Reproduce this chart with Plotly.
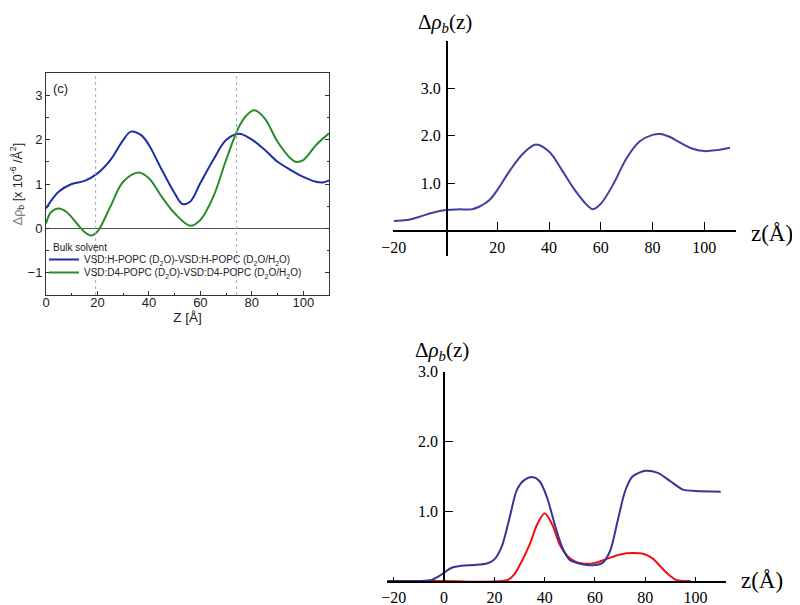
import plotly.graph_objects as go

W, H = 800, 605

# ---------------- Panel (c) data ----------------
c_z_blue = [0, 5, 10, 15, 20, 25, 30, 33, 37, 40, 45, 50, 53, 56, 60, 65, 70, 75, 80, 85, 90, 95, 100, 105, 108, 110]
c_blue = [0.45, 0.83, 1.0, 1.07, 1.24, 1.54, 1.99, 2.18, 2.1, 1.88, 1.32, 0.79, 0.55, 0.6, 1.02, 1.54, 1.99, 2.13, 2.0, 1.77, 1.5, 1.32, 1.16, 1.05, 1.04, 1.08]
c_z_green = [0, 2, 5, 8, 12, 15, 17.5, 20, 25, 30, 36, 40, 45, 50, 56, 60, 65, 70, 75, 78, 81, 85, 90, 95, 97, 100, 105, 110]
c_green = [0.11, 0.37, 0.45, 0.37, 0.11, -0.08, -0.16, -0.07, 0.49, 1.05, 1.26, 1.13, 0.71, 0.34, 0.06, 0.19, 0.71, 1.54, 2.29, 2.55, 2.66, 2.48, 1.95, 1.58, 1.5, 1.54, 1.88, 2.14]
c_vlines = [19.3, 74.1]
c_xticks = [0, 20, 40, 60, 80, 100]
c_yticks = [-1, 0, 1, 2, 3]
c_top_ticks = [11, 22, 33, 44, 55, 66, 77, 88, 99]
c_names = ["VSD:H-POPC (D<sub>2</sub>O)-VSD:H-POPC (D<sub>2</sub>O/H<sub>2</sub>O)",
           "VSD:D4-POPC (D<sub>2</sub>O)-VSD:D4-POPC (D<sub>2</sub>O/H<sub>2</sub>O)"]

# ---------------- Top-right panel data ----------------
t_z = [-20, -15, -10, -5, 0, 5, 10, 13, 17, 20, 25, 30, 35, 40, 45, 50, 55, 57, 60, 65, 70, 75, 80, 83, 87, 90, 95, 100, 105, 110]
t_rho = [0.21, 0.23, 0.3, 0.385, 0.44, 0.455, 0.455, 0.51, 0.65, 0.86, 1.28, 1.63, 1.82, 1.67, 1.28, 0.86, 0.53, 0.46, 0.57, 1.0, 1.53, 1.88, 2.02, 2.04, 1.97, 1.88, 1.74, 1.68, 1.7, 1.75]
t_xticks = [-20, 20, 40, 60, 80, 100]
t_xlabels = ["\u221220", "20", "40", "60", "80", "100"]
t_yticks = [1.0, 2.0, 3.0]

# ---------------- Bottom-right panel data ----------------
b_z_blue = [-22, -10, -5, -2, 0, 3, 7, 12, 17, 20, 23, 26, 29, 32, 35, 38, 41, 44, 47, 50, 55, 60, 63, 66, 69, 72, 75, 80, 85, 90, 95, 100, 110]
b_blue = [0, 0, 0.015, 0.07, 0.12, 0.19, 0.22, 0.23, 0.25, 0.31, 0.5, 0.9, 1.31, 1.45, 1.49, 1.43, 1.19, 0.81, 0.48, 0.3, 0.24, 0.23, 0.26, 0.43, 0.86, 1.29, 1.5, 1.58, 1.55, 1.43, 1.31, 1.29, 1.28]
b_z_red = [-25, 0, 25, 28, 31, 34, 37, 40, 43, 46, 49, 52, 55, 60, 65, 70, 75, 80, 83, 86, 89, 92, 95, 98]
b_red = [0, 0, 0.01, 0.1, 0.29, 0.52, 0.81, 0.97, 0.81, 0.52, 0.36, 0.28, 0.25, 0.26, 0.32, 0.38, 0.4, 0.38, 0.32, 0.21, 0.1, 0.02, 0.0, 0.0]
b_xticks = [-20, 0, 20, 40, 60, 80, 100]
b_xlabels = ["\u221220", "0", "20", "40", "60", "80", "100"]
b_yticks = [1.0, 2.0, 3.0]

# ---------------- geometry helpers (page body has an 8px margin) ----------------
OFF = 8

def fx(px):
    return (px - OFF) / W

def fy(py):
    return 1 - (py - OFF) / H

fig = go.Figure()

fig.add_trace(go.Scatter(x=c_z_blue, y=c_blue, mode="lines", name=c_names[0], legend="legend",
                         line=dict(color="#1c2fa3", width=2, shape="spline", smoothing=1.0),
                         xaxis="x", yaxis="y"))
fig.add_trace(go.Scatter(x=c_z_green, y=c_green, mode="lines", name=c_names[1], legend="legend2",
                         line=dict(color="#2a8c2a", width=2, shape="spline", smoothing=1.0),
                         xaxis="x", yaxis="y"))

fig.add_trace(go.Scatter(x=t_z, y=t_rho, mode="lines", showlegend=False,
                         line=dict(color="#4040a0", width=2, shape="spline", smoothing=1.0),
                         xaxis="x2", yaxis="y2"))

fig.add_trace(go.Scatter(x=b_z_red, y=b_red, mode="lines", showlegend=False,
                         line=dict(color="#f01010", width=2, shape="spline", smoothing=0.8),
                         xaxis="x3", yaxis="y3"))
fig.add_trace(go.Scatter(x=b_z_blue, y=b_blue, mode="lines", showlegend=False,
                         line=dict(color="#363696", width=2, shape="spline", smoothing=0.8),
                         xaxis="x3", yaxis="y3"))

serif = "Liberation Serif"
sans = "Liberation Sans"

c_dom_x = [fx(46), fx(329)]
c_dom_y = [fy(295), fy(73)]
t_dom_x = [fx(393.3), fx(736)]
t_dom_y = [fy(256), fy(40.7)]
b_dom_x = [fx(387), fx(726)]
b_dom_y = [fy(581), fy(371.7)]

leg_font = dict(family=sans, size=10, color="#222")

fig.update_layout(
    width=W, height=H,
    margin=dict(l=0, r=0, t=0, b=0, autoexpand=False),
    paper_bgcolor="white", plot_bgcolor="white",
    showlegend=True,
    legend=dict(x=fx(44), y=fy(245), xanchor="left", yanchor="top",
                bgcolor="rgba(0,0,0,0)", font=leg_font, itemwidth=30),
    legend2=dict(x=fx(44), y=fy(258), xanchor="left", yanchor="top",
                 bgcolor="rgba(0,0,0,0)", font=leg_font, itemwidth=30),
    xaxis=dict(domain=c_dom_x, range=[0, 110], anchor="y", automargin=False,
               showline=True, linecolor="#333", linewidth=1, mirror=True,
               ticks="inside", ticklen=4, tickcolor="#333", tickvals=c_xticks,
               minor=dict(ticks="inside", ticklen=2.5, dtick=10, tick0=0, tickcolor="#333"),
               showgrid=False, zeroline=False, ticklabelstandoff=-5,
               tickfont=dict(family=sans, size=13, color="#222"),
               title=dict(text="Z [Å]", font=dict(family=sans, size=13.5, color="#222"), standoff=0)),
    xaxis4=dict(domain=c_dom_x, range=[0, 110], anchor="y", overlaying="x", side="top",
                automargin=False,
                showline=False, ticks="inside", ticklen=4, tickcolor="#333",
                tickvals=c_top_ticks, showticklabels=False, showgrid=False, zeroline=False),
    yaxis=dict(domain=c_dom_y, range=[-1.5, 3.5], anchor="x", automargin=False,
               showline=True, linecolor="#333", linewidth=1, mirror="ticks",
               ticks="inside", ticklen=4, tickcolor="#333", tickvals=c_yticks,
               minor=dict(ticks="inside", ticklen=2.5, dtick=0.5, tick0=0, tickcolor="#333"),
               showgrid=False, zeroline=True, zerolinecolor="#555", zerolinewidth=1,
               tickfont=dict(family=sans, size=13, color="#222"),
               title=dict(text="<span style='color:#777'>Δρ</span><sub>b</sub> [x 10<sup>-6</sup> /Å<sup>2</sup>]",
                          font=dict(family=sans, size=12.5, color="#222"), standoff=2)),
    xaxis2=dict(domain=t_dom_x, range=[-20.2, 112.3], anchor="free", automargin=False,
                position=fy(231), showline=True, linecolor="black", linewidth=1.5,
                ticks="inside", ticklen=8, tickcolor="black", tickwidth=1.2,
                tickvals=t_xticks, ticktext=t_xlabels, ticklabelstandoff=2,
                showgrid=False, zeroline=False,
                tickfont=dict(family=serif, size=16, color="black")),
    yaxis2=dict(domain=t_dom_y, range=[-0.525, 4.0], anchor="free", automargin=False,
                position=fx(446.7), showline=True, linecolor="black", linewidth=1.5,
                ticks="inside", ticklen=8, tickcolor="black", tickwidth=1.2,
                tickvals=t_yticks, tickformat=".1f", ticklabelstandoff=2,
                showgrid=False, zeroline=False,
                tickfont=dict(family=serif, size=16, color="black")),
    xaxis3=dict(domain=b_dom_x, range=[-22.7, 112.1], anchor="y3", automargin=False,
                showline=True, linecolor="black", linewidth=1.5,
                ticks="inside", ticklen=4, tickcolor="black", tickwidth=1.2,
                tickvals=b_xticks, ticktext=b_xlabels, ticklabelstandoff=1,
                showgrid=False, zeroline=False,
                tickfont=dict(family=serif, size=16, color="black")),
    yaxis3=dict(domain=b_dom_y, range=[0, 3.0], anchor="free", automargin=False,
                position=fx(444), showline=True, linecolor="black", linewidth=1.5,
                ticks="inside", ticklen=8, tickcolor="black", tickwidth=1.2,
                tickvals=b_yticks, tickformat=".1f", ticklabelstandoff=2,
                showgrid=False, zeroline=False,
                tickfont=dict(family=serif, size=16, color="black")),
)

for xv in c_vlines:
    fig.add_shape(type="line", xref="x", yref="y domain", x0=xv, x1=xv, y0=0, y1=1,
                  line=dict(color="#8fb0c8", width=1, dash="dot"))

ann = []
ann.append(dict(text="(c)", xref="paper", yref="paper", x=fx(51), y=fy(88), xanchor="left",
                yanchor="middle", showarrow=False, font=dict(family=sans, size=13, color="#222")))
ann.append(dict(text="Bulk solvent", xref="paper", yref="paper", x=fx(51), y=fy(247), xanchor="left",
                yanchor="middle", showarrow=False, font=leg_font))
ann.append(dict(text="Δ<i>ρ</i><sub><i>b</i></sub>(z)", xref="paper", yref="paper", x=fx(445), y=fy(23),
                xanchor="center", yanchor="middle", showarrow=False,
                font=dict(family=serif, size=21, color="black")))
ann.append(dict(text="z(Å)", xref="paper", yref="paper", x=fx(772), y=fy(233),
                xanchor="center", yanchor="middle", showarrow=False,
                font=dict(family=serif, size=23, color="black")))
ann.append(dict(text="Δ<i>ρ</i><sub><i>b</i></sub>(z)", xref="paper", yref="paper", x=fx(442), y=fy(351),
                xanchor="center", yanchor="middle", showarrow=False,
                font=dict(family=serif, size=21, color="black")))
ann.append(dict(text="z(Å)", xref="paper", yref="paper", x=fx(762), y=fy(580),
                xanchor="center", yanchor="middle", showarrow=False,
                font=dict(family=serif, size=23, color="black")))
fig.update_layout(annotations=ann)

fig.write_html("out.html")
